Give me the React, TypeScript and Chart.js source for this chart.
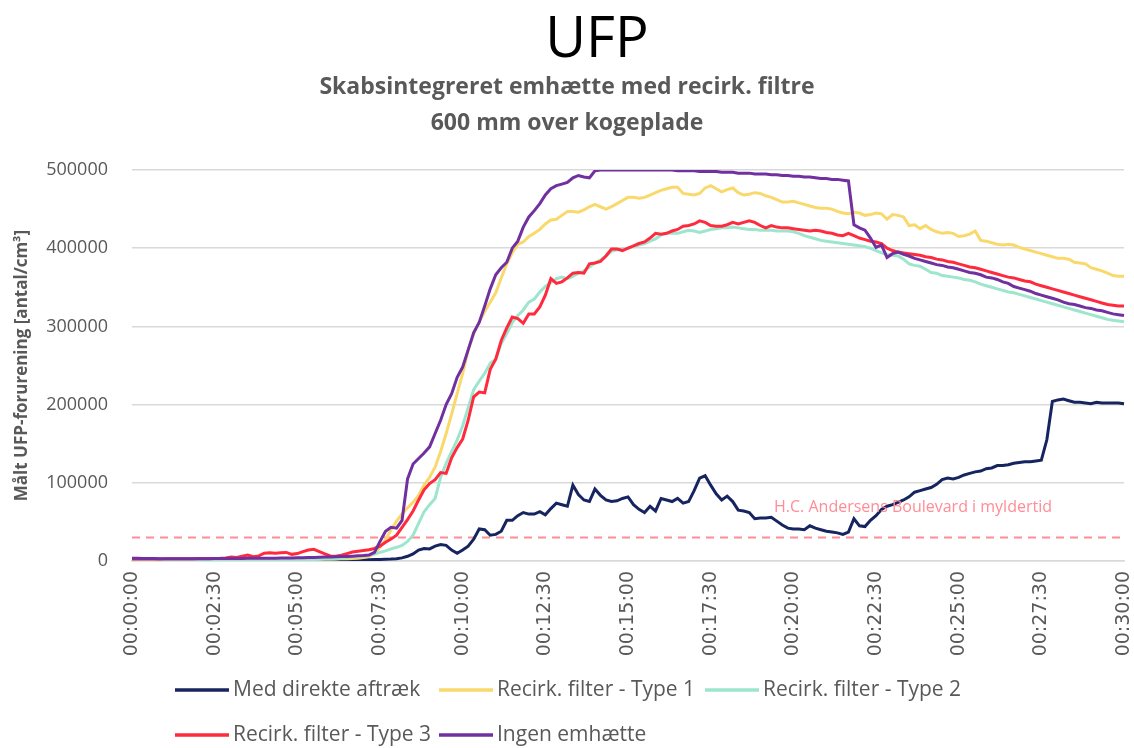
import React, { useEffect, useRef } from 'react';
import { Chart, registerables } from 'chart.js';

Chart.register(...registerables);

const TITLE = 'UFP';
const SUBTITLE_LINES = ['Skabsintegreret emhætte med recirk. filtre', '600 mm over kogeplade'];
const Y_TITLE = 'Målt UFP-forurening [antal/cm³]';
const REF_LABEL = 'H.C. Andersens Boulevard i myldertid';
const REF_LEVEL = 30000;
const REF_LABEL_INDEX = 116.5;
const REF_LABEL_VALUE = 69000;

const SAMPLE_SECONDS = 10;
const SAMPLE_COUNT = 181;
const TICK_EVERY = 15;

const SERIES_NAMES = [
  'Med direkte aftræk',
  'Recirk. filter - Type 1',
  'Recirk. filter - Type 2',
  'Recirk. filter - Type 3',
  'Ingen emhætte',
];
const SERIES_COLORS = ['#16245f', '#f9d96c', '#9de6cd', '#ff2a3d', '#7030a0'];
const REF_COLOR = '#ff8c96';

const medDirekteAftraek = [
  1000, 900, 800, 700, 600, 600, 500, 500, 400, 400,
  400, 300, 300, 300, 300, 300, 300, 300, 300, 300,
  300, 300, 300, 300, 300, 300, 300, 300, 300, 300,
  300, 300, 300, 400, 400, 400, 500, 500, 600, 700,
  800, 1000, 1200, 1500, 1800, 2000, 2200, 2500, 3000, 4000,
  6000, 9000, 14000, 16000, 15500, 19000, 21000, 20000, 14000, 10000,
  14000, 19000, 28000, 41000, 40000, 33000, 34000, 38000, 52000, 52000,
  58000, 62000, 60000, 60000, 63000, 59000, 67000, 74000, 72000, 70000,
  97000, 85000, 78000, 76000, 92000, 84000, 78000, 76000, 77000, 80000,
  82000, 72000, 66000, 62000, 70000, 64000, 80000, 78000, 76000, 80000,
  74000, 76000, 90000, 106000, 109000, 97000, 86000, 78000, 83000, 76000,
  65000, 64000, 62000, 54000, 55000, 55000, 56000, 51000, 46000, 42000,
  41000, 41000, 40000, 45000, 42000, 40000, 38000, 37000, 36000, 34000,
  37000, 54000, 45000, 44000, 52000, 58000, 66000, 70000, 72000, 75000,
  78000, 82000, 88000, 90000, 92000, 94000, 98000, 104000, 106000, 105000,
  107000, 110000, 112000, 114000, 115000, 118000, 119000, 122000, 122000, 123000,
  125000, 126000, 127000, 127000, 128000, 129000, 155000, 204000, 206000, 207000,
  205000, 203000, 203000, 202000, 201000, 203000, 202000, 202000, 202000, 202000, 201000,
];

const recirkType1 = [
  1500, 1500, 1500, 1400, 1400, 1400, 1300, 1300, 1300, 1300,
  1300, 1300, 1300, 1300, 1300, 1400, 1400, 1400, 1400, 1500,
  1500, 1500, 1600, 1600, 1600, 1700, 1700, 1800, 1800, 1900,
  2000, 2000, 2100, 2200, 2300, 2400, 2500, 2600, 2800, 3000,
  3200, 3500, 4500, 6000, 9000, 18000, 27000, 40000, 51000, 60000,
  68000, 75000, 84000, 97000, 107000, 120000, 140000, 163000, 188000, 214000,
  240000, 270000, 290000, 306000, 319000, 331000, 343000, 362000, 380000, 394000,
  405000, 408000, 415000, 419000, 424000, 431000, 436000, 437000, 442000, 447000,
  447000, 446000, 449000, 453000, 456000, 453000, 450000, 453000, 457000, 461000,
  465000, 465000, 464000, 465000, 468000, 471000, 474000, 476000, 478000, 478000,
  470000, 469000, 468000, 470000, 477000, 480000, 476000, 472000, 475000, 477000,
  471000, 468000, 469000, 471000, 470000, 467000, 465000, 462000, 459000, 459000,
  460000, 458000, 456000, 454000, 452000, 451000, 451000, 450000, 447000, 445000,
  444000, 446000, 445000, 442000, 443000, 445000, 444000, 437000, 443000, 442000,
  440000, 429000, 430000, 425000, 429000, 424000, 421000, 419000, 420000, 419000,
  415000, 416000, 418000, 422000, 410000, 409000, 407000, 405000, 404000, 405000,
  404000, 401000, 399000, 397000, 395000, 393000, 391000, 389000, 387000, 387000,
  386000, 382000, 381000, 380000, 375000, 373000, 371000, 368000, 365000, 364000, 364000,
];

const recirkType2 = [
  1200, 1200, 1100, 1100, 1100, 1000, 1000, 1000, 1000, 1000,
  1000, 1000, 1000, 1000, 1000, 1000, 1000, 1000, 1000, 1000,
  1000, 1100, 1100, 1200, 1200, 1300, 1300, 1400, 1500, 1600,
  1700, 1800, 1900, 2000, 2200, 2400, 2600, 3000, 3500, 4000,
  5000, 5500, 6500, 7500, 9000, 11000, 13000, 15500, 17500, 20000,
  25000, 33000, 48000, 63000, 72000, 80000, 107000, 125000, 140000, 155000,
  173000, 196000, 219000, 230000, 240000, 253000, 258000, 278000, 291000, 305000,
  314000, 321000, 331000, 335000, 344000, 351000, 356000, 361000, 363000, 361000,
  364000, 368000, 371000, 376000, 381000, 385000, 390000, 396000, 398000, 399000,
  400000, 402000, 404000, 406000, 409000, 412000, 417000, 419000, 419000, 419000,
  421000, 423000, 422000, 420000, 422000, 424000, 425000, 426000, 426000, 427000,
  426000, 425000, 424000, 424000, 423000, 423000, 423000, 422000, 422000, 422000,
  421000, 419000, 416000, 414000, 412000, 410000, 409000, 408000, 407000, 406000,
  405000, 404000, 403000, 402000, 400000, 397000, 394000, 392000, 391000, 390000,
  386000, 380000, 378000, 377000, 373000, 369000, 368000, 365000, 364000, 363000,
  362000, 360000, 359000, 357000, 354000, 352000, 350000, 348000, 346000, 344000,
  343000, 341000, 339000, 337000, 335000, 333000, 331000, 329000, 327000, 325000,
  323000, 321000, 319000, 317000, 315000, 313000, 311000, 309000, 308000, 307000, 306000,
];

const recirkType3 = [
  2500, 2500, 2600, 2600, 2700, 2700, 2800, 2800, 2900, 3000,
  3000, 3000, 3100, 3200, 3200, 3300, 3500, 4000, 5000, 4500,
  6000, 7500, 5500, 6500, 10000, 10500, 10000, 10500, 11000, 8500,
  9500, 12000, 14000, 15000, 12000, 9000, 6500, 6000, 7500, 9500,
  11500, 12500, 13500, 14500, 16000, 19000, 24000, 28000, 33000, 43000,
  53000, 64000, 78000, 91000, 99000, 104000, 113000, 112000, 132000, 145000,
  156000, 180000, 210000, 216000, 215000, 245000, 258000, 282000, 298000, 312000,
  310000, 304000, 316000, 316000, 325000, 340000, 361000, 355000, 357000, 362000,
  368000, 369000, 368000, 380000, 381000, 383000, 390000, 399000, 399000, 397000,
  400000, 403000, 406000, 408000, 413000, 419000, 418000, 419000, 422000, 424000,
  428000, 429000, 431000, 435000, 433000, 429000, 428000, 428000, 430000, 433000,
  431000, 433000, 435000, 433000, 429000, 426000, 429000, 427000, 426000, 426000,
  425000, 424000, 423000, 422000, 423000, 422000, 420000, 419000, 417000, 416000,
  419000, 416000, 413000, 411000, 409000, 408000, 406000, 400000, 397000, 395000,
  394000, 393000, 392000, 391000, 389000, 388000, 386000, 385000, 383000, 382000,
  380000, 378000, 376000, 375000, 373000, 371000, 369000, 367000, 365000, 363000,
  362000, 360000, 358000, 357000, 354000, 352000, 350000, 348000, 346000, 344000,
  342000, 340000, 338000, 336000, 334000, 332000, 330000, 328000, 327000, 326000, 326000,
];

const ingenEmhaette = [
  3500, 3400, 3300, 3200, 3100, 3000, 3000, 3000, 3000, 3000,
  3000, 3000, 3000, 3000, 3000, 3100, 3100, 3200, 3200, 3300,
  3300, 3400, 3400, 3500, 3500, 3600, 3600, 3700, 3800, 3900,
  4000, 4200, 4400, 4600, 4800, 5000, 5200, 5400, 5600, 5800,
  6200, 6600, 7000, 7600, 11000, 25000, 38000, 43000, 42000, 52000,
  105000, 124000, 131000, 138000, 146000, 163000, 180000, 200000, 214000, 235000,
  248000, 270000, 292000, 305000, 326000, 348000, 366000, 375000, 382000, 400000,
  409000, 427000, 440000, 448000, 457000, 468000, 476000, 480000, 482000, 484000,
  490000, 493000, 491000, 490000, 499000, 500000, 500000, 500000, 500000, 500000,
  500000, 500000, 500000, 500000, 500000, 500000, 500000, 500000, 500000, 499000,
  499000, 499000, 499000, 498000, 498000, 498000, 498000, 497000, 497000, 497000,
  496000, 496000, 496000, 495000, 495000, 495000, 494000, 494000, 493000, 493000,
  492000, 492000, 491000, 491000, 490000, 489000, 489000, 488000, 488000, 487000,
  486000, 430000, 426000, 423000, 413000, 401000, 404000, 388000, 393000, 395000,
  392000, 390000, 387000, 385000, 383000, 381000, 379000, 378000, 376000, 375000,
  373000, 371000, 369000, 368000, 366000, 363000, 362000, 360000, 357000, 355000,
  351000, 349000, 347000, 345000, 342000, 340000, 338000, 336000, 334000, 331000,
  329000, 328000, 326000, 324000, 323000, 321000, 320000, 318000, 316000, 315000, 314000,
];

const SERIES_VALUES = [medDirekteAftraek, recirkType1, recirkType2, recirkType3, ingenEmhaette];

const Y_MAX = 500000;
const Y_STEP = 100000;

function formatTime(totalSeconds: number): string {
  const h = Math.floor(totalSeconds / 3600);
  const m = Math.floor((totalSeconds % 3600) / 60);
  const s = totalSeconds % 60;
  const p = (n: number) => String(n).padStart(2, '0');
  return `${p(h)}:${p(m)}:${p(s)}`;
}

const timeLabels: string[] = Array.from({ length: SAMPLE_COUNT }, (_, i) => formatTime(i * SAMPLE_SECONDS));

const SANS = "'Open Sans', 'Noto Sans', sans-serif";
const GRAY = '#595959';

const decorPlugin = {
  id: 'decor',
  afterDraw(chart: any) {
    const ctx = chart.ctx as CanvasRenderingContext2D;
    ctx.save();
    // Main title
    ctx.fillStyle = '#000000';
    ctx.textAlign = 'center';
    ctx.textBaseline = 'alphabetic';
    ctx.font = `56px ${SANS}`;
    ctx.fillText(TITLE, 597, 57);
    // Subtitle
    ctx.fillStyle = GRAY;
    ctx.font = `bold 23px ${SANS}`;
    ctx.fillText(SUBTITLE_LINES[0], 567, 94);
    ctx.fillText(SUBTITLE_LINES[1], 567, 130);

    // Reference label
    const xs = chart.scales.x;
    const ys = chart.scales.y;
    ctx.fillStyle = REF_COLOR;
    ctx.font = `16px ${SANS}`;
    ctx.textAlign = 'left';
    ctx.textBaseline = 'middle';
    ctx.fillText(REF_LABEL, xs.getPixelForValue(REF_LABEL_INDEX), ys.getPixelForValue(REF_LABEL_VALUE));

    // Legend (grid layout like the original)
    const cols = [175, 439, 705];
    const rows = [690, 735];
    ctx.font = `21px ${SANS}`;
    ctx.textBaseline = 'middle';
    SERIES_NAMES.forEach((name, i) => {
      const x = cols[i % 3];
      const y = rows[Math.floor(i / 3)];
      ctx.strokeStyle = SERIES_COLORS[i];
      ctx.lineWidth = 3.5;
      ctx.lineCap = 'butt';
      ctx.beginPath();
      ctx.moveTo(x, y);
      ctx.lineTo(x + 54, y);
      ctx.stroke();
      ctx.fillStyle = GRAY;
      ctx.fillText(name, x + 58, y);
    });
    ctx.restore();
  },
};

export default function App() {
  const canvasRef = useRef<HTMLCanvasElement | null>(null);

  useEffect(() => {
    document.body.style.margin = '0';
    const canvas = canvasRef.current;
    if (!canvas) return;

    const datasets: any[] = SERIES_NAMES.map((name, i) => ({
      label: name,
      data: SERIES_VALUES[i],
      borderColor: SERIES_COLORS[i],
      backgroundColor: SERIES_COLORS[i],
      borderWidth: 3,
      pointRadius: 0,
      tension: 0,
      fill: false,
      order: SERIES_NAMES.length - i,
    }));
    datasets.push({
      label: REF_LABEL,
      data: timeLabels.map(() => REF_LEVEL),
      borderColor: REF_COLOR,
      borderWidth: 2,
      borderDash: [8, 6],
      pointRadius: 0,
      fill: false,
      order: 10,
    });

    const chart = new Chart(canvas, {
      type: 'line',
      data: { labels: timeLabels, datasets },
      options: {
        animation: false,
        responsive: false,
        devicePixelRatio: 1,
        layout: { padding: { top: 170, left: 0, right: 10, bottom: 77 } },
        plugins: {
          legend: { display: false },
          tooltip: { enabled: false },
          title: { display: false },
        },
        scales: {
          x: {
            type: 'category',
            offset: false,
            grid: { display: false, drawTicks: false },
            border: { display: true, color: '#d9d9d9', width: 1.5 },
            ticks: {
              autoSkip: false,
              minRotation: 90,
              maxRotation: 90,
              padding: 10,
              color: GRAY,
              font: { family: "'DejaVu Sans', sans-serif", size: 19 },
              callback: (_v: any, idx: number) => (idx % TICK_EVERY === 0 ? timeLabels[idx] : ''),
            },
            afterFit: (scale: any) => {
              scale.height = 110;
              scale.paddingLeft = 0;
              scale.paddingRight = 0;
            },
          },
          y: {
            min: 0,
            max: Y_MAX,
            grid: { color: '#d9d9d9', lineWidth: 1.5, drawTicks: false },
            border: { display: false },
            ticks: {
              stepSize: Y_STEP,
              padding: 24,
              color: GRAY,
              font: { family: SANS, size: 18 },
              callback: (v: any) => String(v),
            },
            title: {
              display: true,
              text: Y_TITLE,
              color: GRAY,
              font: { family: SANS, size: 17, weight: 'bold' },
              padding: { top: 12, bottom: 0 },
            },
            afterFit: (scale: any) => {
              scale.width = 132;
            },
          },
        },
      },
      plugins: [decorPlugin],
    });

    return () => {
      chart.destroy();
    };
  }, []);

  return (
    <div style={{ width: 1134, height: 748, overflow: 'hidden' }}>
      <canvas ref={canvasRef} width={1134} height={748} />
    </div>
  );
}
